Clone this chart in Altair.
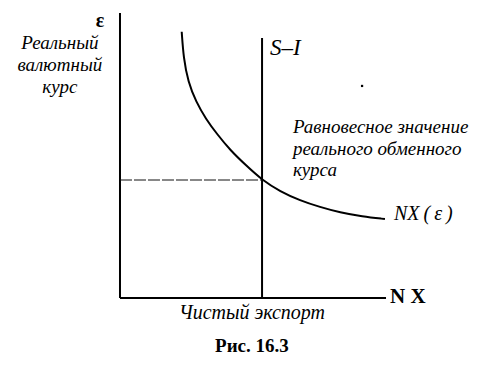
import altair as alt
import pandas as pd

# ---- data (axis units: NX 0..10, epsilon 0..10) ----
curve_nx = [2.32, 2.39, 2.56, 2.86, 3.23, 3.65, 4.14, 4.74, 5.34, 6.02, 6.77, 7.52, 8.27, 9.10, 9.96]
curve_eps = [9.34, 8.42, 7.58, 6.88, 6.28, 5.75, 5.19, 4.65, 4.14, 3.74, 3.42, 3.19, 3.00, 2.86, 2.77]
si_value = 5.34          # S - I (vertical line)
si_top = 9.12
eq_eps = 4.14            # equilibrium real exchange rate
axis_max_x = 10.0
axis_max_y = 10.0

ylab_lines = ["Реальный", "валютный", "курс"]
ylab_y = [8.74, 7.96, 7.19]
note_lines = ["Равновесное значение", "реального обменного", "курса"]
note_y = [5.79, 5.02, 4.28]

X_DOM = [-4.21, 13.27]
Y_DOM = [-2.316, 10.175]

xs = alt.Scale(domain=X_DOM, nice=False, zero=False)
ys = alt.Scale(domain=Y_DOM, nice=False, zero=False)

# axes
axes_df = pd.DataFrame({
    "x": [0.0, 0.0], "y": [0.0, 0.0],
    "x2": [axis_max_x, 0.0], "y2": [0.0, axis_max_y],
})
axes = alt.Chart(axes_df).mark_rule(color="black", strokeWidth=2).encode(
    x=alt.X("x:Q", scale=xs, axis=None),
    y=alt.Y("y:Q", scale=ys, axis=None),
    x2="x2:Q", y2="y2:Q",
)

si_df = pd.DataFrame({"x": [si_value], "y": [0.0], "y2": [si_top]})
si_line = alt.Chart(si_df).mark_rule(color="black", strokeWidth=2).encode(
    x=alt.X("x:Q", scale=xs, axis=None),
    y=alt.Y("y:Q", scale=ys, axis=None),
    y2="y2:Q",
)

eq_df = pd.DataFrame({"x": [0.0], "x2": [si_value], "y": [eq_eps]})
eq_line = alt.Chart(eq_df).mark_rule(color="#111111", strokeWidth=1, strokeDash=[12, 2]).encode(
    x=alt.X("x:Q", scale=xs, axis=None),
    x2="x2:Q",
    y=alt.Y("y:Q", scale=ys, axis=None),
)

curve_df = pd.DataFrame({"x": curve_nx, "y": curve_eps, "o": list(range(len(curve_nx)))})
curve = alt.Chart(curve_df).mark_line(color="black", strokeWidth=2, interpolate="basis").encode(
    x=alt.X("x:Q", scale=xs, axis=None),
    y=alt.Y("y:Q", scale=ys, axis=None),
    order="o:Q",
)

def text_layer(df, align="left", size=17, style="italic", weight="normal", baseline="alphabetic"):
    return alt.Chart(df).mark_text(
        align=align, baseline=baseline, fontSize=size, font="Liberation Serif",
        fontStyle=style, fontWeight=weight, color="black",
    ).encode(
        x=alt.X("x:Q", scale=xs, axis=None),
        y=alt.Y("y:Q", scale=ys, axis=None),
        text="t:N",
    )

ylab = text_layer(pd.DataFrame({"x": [-2.26] * 3, "y": ylab_y, "t": ylab_lines}), align="center", size=19)
eps_lab = text_layer(pd.DataFrame({"x": [-0.75], "y": [9.5], "t": ["ε"]}), align="center", size=20,
                     style="normal", weight="bold")
si_lab = text_layer(pd.DataFrame({"x": [5.64], "y": [8.53], "t": ["S–I"]}), size=23)
note = text_layer(pd.DataFrame({"x": [6.5] * 3, "y": note_y, "t": note_lines}), size=19)
nxe = text_layer(pd.DataFrame({"x": [10.3], "y": [2.72], "t": ["NX\u2009(\u2009ε\u2009)"]}), size=20)
nx_axis = text_layer(pd.DataFrame({"x": [10.15], "y": [-0.17], "t": ["N X"]}), size=21,
                     style="normal", weight="bold")
xlab = text_layer(pd.DataFrame({"x": [4.96], "y": [-0.72], "t": ["Чистый экспорт"]}), align="center", size=20)
fig = text_layer(pd.DataFrame({"x": [4.96], "y": [-1.89], "t": ["Рис. 16.3"]}), align="center", size=19,
                 style="normal", weight="bold")

dot = alt.Chart(pd.DataFrame({"x": [9.10], "y": [7.44]})).mark_square(color="black", size=5, opacity=1).encode(
    x=alt.X("x:Q", scale=xs, axis=None),
    y=alt.Y("y:Q", scale=ys, axis=None),
)

chart = alt.layer(
    axes, si_line, eq_line, curve, ylab, eps_lab, si_lab, note, nxe, nx_axis, xlab, fig, dot
).properties(
    width=465, height=356, autosize=alt.AutoSizeParams(type="none"), padding=0,
    background="white",
).configure_view(stroke=None)

chart.save("out.html", embed_options={"renderer": "svg", "actions": False})
